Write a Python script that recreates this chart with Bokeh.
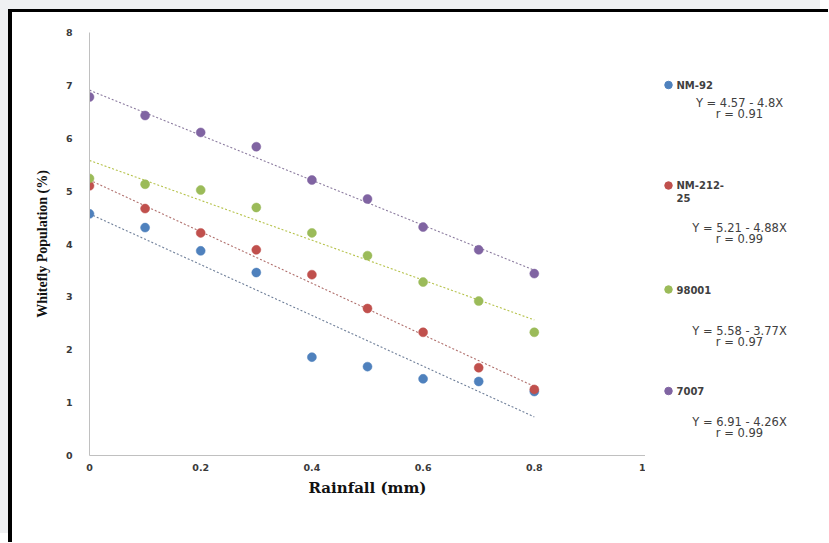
from bokeh.plotting import figure
from bokeh.layouts import row
from bokeh.models import Range1d, FixedTicker
from bokeh.embed import file_html
from bokeh.resources import INLINE
from bokeh.core.properties import value

# ---------------- data ----------------
rainfall = [0, 0.1, 0.2, 0.3, 0.4, 0.5, 0.6, 0.7, 0.8]
nm_92 = [4.57, 4.31, 3.87, 3.46, 1.86, 1.68, 1.45, 1.40, 1.21]
nm_212_25 = [5.10, 4.67, 4.21, 3.89, 3.42, 2.78, 2.33, 1.66, 1.25]
v_98001 = [5.24, 5.13, 5.02, 4.69, 4.21, 3.78, 3.28, 2.92, 2.33]
v_7007 = [6.78, 6.43, 6.11, 5.84, 5.21, 4.85, 4.32, 3.89, 3.44]

series_names = ["NM-92", "NM-212-25", "98001", "7007"]
series_name_lines = [["NM-92"], ["NM-212-", "25"], ["98001"], ["7007"]]
intercepts = [4.57, 5.21, 5.58, 6.91]
slopes = [4.8, 4.88, 3.77, 4.26]
r_values = [0.91, 0.99, 0.97, 0.99]

x_ticks = [0, 0.2, 0.4, 0.6, 0.8, 1]
x_tick_labels = ["0", "0.2", "0.4", "0.6", "0.8", "1"]
y_ticks = [0, 1, 2, 3, 4, 5, 6, 7, 8]

colors = ["#4f81bd", "#c0504d", "#9bbb59", "#8064a2"]
trend_colors = ["#6f7f99", "#b0706d", "#b5c24a", "#8a7a9e"]

H = 530
TOP, FH = 20, 423
BOTTOM = H - TOP - FH
p = figure(
    frame_width=556, frame_height=FH,
    x_range=Range1d(0, 1), y_range=Range1d(0, 8),
    output_backend="svg", toolbar_location=None,
    min_border_left=77, min_border_top=TOP, min_border_bottom=BOTTOM, min_border_right=0,
)
p.background_fill_color = "white"
p.border_fill_color = "white"
p.outline_line_color = None
p.xgrid.visible = False
p.ygrid.visible = False

for ax in (p.xaxis[0], p.yaxis[0]):
    ax.axis_line_color = "#c0c0c0"
    ax.axis_line_width = 1
    ax.major_tick_line_color = None
    ax.minor_tick_line_color = None
    ax.major_tick_out = 0
    ax.major_tick_in = 0
    ax.minor_tick_out = 0
    ax.major_label_text_font = "DejaVu Sans"
    ax.major_label_text_font_size = "9.5px"
    ax.major_label_text_font_style = "bold"
    ax.major_label_text_color = "#3a3a3a"

p.xaxis.ticker = FixedTicker(ticks=x_ticks)
p.xaxis.major_label_overrides = {t: l for t, l in zip(x_ticks, x_tick_labels)}
p.xaxis.major_label_standoff = 8
p.xaxis.axis_label = "Rainfall (mm)"
p.xaxis.axis_label_text_font = "DejaVu Serif"
p.xaxis.axis_label_text_font_size = "15px"
p.xaxis.axis_label_text_font_style = "bold"
p.xaxis.axis_label_text_color = "#111111"
p.xaxis.axis_label_standoff = 5

p.yaxis.ticker = FixedTicker(ticks=y_ticks)
p.yaxis.major_label_standoff = 17
p.yaxis.axis_label = "Whitefly Population (%)"
p.yaxis.axis_label_text_font = "Liberation Serif"
p.yaxis.axis_label_text_font_size = "14px"
p.yaxis.axis_label_text_font_style = "bold"
p.yaxis.axis_label_text_color = "#111111"
p.yaxis.axis_label_standoff = 13

# ---------------- series ----------------
all_series = [nm_92, nm_212_25, v_98001, v_7007]
x_end = rainfall[-1]
for a, b, tc in zip(intercepts, slopes, trend_colors):
    p.segment(x0=[rainfall[0]], y0=[a - b * rainfall[0]], x1=[x_end], y1=[a - b * x_end],
              line_color=tc, line_dash="2 2", line_width=1.1)

for vals, c in zip(all_series, colors):
    p.scatter(rainfall, vals, size=9, fill_color=c, line_color=c, line_width=0.5)

# ---------------- legend panel (pixel coordinates of the picture) ----------------
# its frame is aligned with the main frame: picture y 32 (top) .. 455 (bottom)
LX0, LX1 = 645, 828
p2 = figure(
    frame_width=LX1 - LX0, frame_height=FH,
    x_range=Range1d(LX0, LX1), y_range=Range1d(32 + FH, 32),
    output_backend="svg", toolbar_location=None,
    min_border_left=0, min_border_right=0, min_border_top=TOP, min_border_bottom=BOTTOM,
    x_axis_location=None, y_axis_location=None,
)
p2.grid.visible = False
p2.outline_line_color = None
p2.background_fill_color = "white"
p2.border_fill_color = "white"

marker_py = [84.5, 185.0, 289.0, 390.5]
eq_py = [102.0, 227.5, 330.0, 421.5]
r_py = [113.0, 238.5, 341.0, 432.5]

p2.scatter([668] * 4, marker_py, size=7.5, fill_color=colors, line_color=colors)
for lines, my in zip(series_name_lines, marker_py):
    p2.text([676] * len(lines), [my + 12.5 * i for i in range(len(lines))], text=lines,
            text_font=value("DejaVu Sans"), text_font_size="10px", text_font_style="bold",
            text_color="#404040", text_align="left", text_baseline="middle")

eq_texts = [f"Y = {a} - {b}X" for a, b in zip(intercepts, slopes)]
r_texts = [f"r = {r:.2f}" for r in r_values]
for txts, ys in ((eq_texts, eq_py), (r_texts, r_py)):
    p2.text([739] * 4, ys, text=txts,
            text_font=value("DejaVu Sans"), text_font_size="11.5px",
            text_color="#404040", text_align="center", text_baseline="middle")

layout = row(p, p2, styles={
    "border-left": "4px solid #000000",
    "border-top": "3px solid #000000",
    "margin-left": "8px",
    "margin-top": "9px",
    "box-shadow": "-8px -9px 0 0 #eff0f2",
})

open("out.html", "w").write(file_html(layout, INLINE))
